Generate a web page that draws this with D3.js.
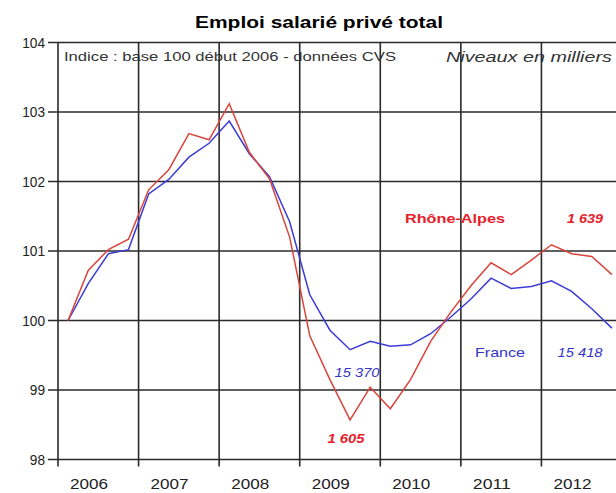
<!DOCTYPE html>
<html>
<head>
<meta charset="utf-8">
<script src="https://cdn.jsdelivr.net/npm/d3@7"></script>
<style>
  html, body { margin: 0; padding: 0; background: #fff; }
  svg { display: block; font-family: Arial, "Liberation Sans", sans-serif; }
</style>
</head>
<body>
<svg id="chart" width="616" height="493"></svg>
<script>
// Quarterly index, base 100 at the start of 2006 (seasonally adjusted)
const years = [2006, 2007, 2008, 2009, 2010, 2011, 2012];
const quartersPerYear = 4;
const yTicks = [98, 99, 100, 101, 102, 103, 104];

const rhoneAlpes = [100.0, 100.72, 101.02, 101.17, 101.88, 102.17, 102.69, 102.60,
                    103.12, 102.42, 102.04, 101.20, 99.78, 99.15, 98.57, 99.04,
                    98.73, 99.15, 99.70, 100.12, 100.50, 100.83, 100.66, 100.87,
                    101.09, 100.96, 100.92, 100.66];
const france = [100.0, 100.53, 100.96, 101.02, 101.82, 102.03, 102.35, 102.55,
                102.87, 102.40, 102.07, 101.42, 100.37, 99.86, 99.58, 99.70,
                99.63, 99.65, 99.81, 100.05, 100.31, 100.61, 100.46, 100.49,
                100.57, 100.42, 100.17, 99.89];

// Levels in thousands of jobs at the trough and at the last quarter
const rhoneLevels = { low: "1 605", last: "1 639" };
const franceLevels = { low: "15 370", last: "15 418" };

const svg = d3.select("#chart");

const x = d3.scaleLinear().domain([2006, 2013]).range([58, 622]);
const y = d3.scaleLinear().domain([98, 104]).range([459.5, 42.5]);

const qTime = i => years[0] + (i + 0.5) / quartersPerYear;

// The chart's lettering is wide: stretch each label to its set width
function fit(sel, width) {
  return sel.attr("textLength", width).attr("lengthAdjust", "spacingAndGlyphs");
}

// Title
fit(svg.append("text")
  .attr("x", 319).attr("y", 28)
  .attr("text-anchor", "middle")
  .attr("font-size", 17).attr("font-weight", "bold")
  .attr("fill", "#000")
  .text("Emploi salarié privé total"), 248);

// Subtitles inside the plot area
fit(svg.append("text")
  .attr("x", 64).attr("y", 61)
  .attr("font-size", 13).attr("fill", "#333")
  .text("Indice : base 100 début 2006 - données CVS"), 332);
fit(svg.append("text")
  .attr("x", 446).attr("y", 62)
  .attr("font-size", 15).attr("font-style", "italic").attr("fill", "#333")
  .text("Niveaux en milliers"), 166);

// Grid: horizontal lines at each index level
const grid = svg.append("g").attr("stroke", "#2a2a2a").attr("stroke-width", 1.6);
grid.selectAll("line.h").data(yTicks).join("line")
  .attr("class", "h")
  .attr("x1", 48).attr("x2", 616)
  .attr("y1", d => y(d)).attr("y2", d => y(d));

// Vertical lines at each year boundary, with ticks below the baseline
const yearBounds = years.concat([2013]);
grid.selectAll("line.v").data(yearBounds).join("line")
  .attr("class", "v")
  .attr("x1", d => x(d)).attr("x2", d => x(d))
  .attr("y1", y(104)).attr("y2", y(98) + 7);

// Y tick labels
svg.append("g").selectAll("text").data(yTicks).join("text")
  .attr("x", 45).attr("y", d => y(d) + 5)
  .attr("text-anchor", "end")
  .attr("font-size", 14).attr("fill", "#222")
  .attr("textLength", d => String(d).length * 7.6)
  .attr("lengthAdjust", "spacingAndGlyphs")
  .text(d => d);

// Year labels
svg.append("g").selectAll("text").data(years).join("text")
  .attr("x", d => x(d) + 31).attr("y", 489)
  .attr("text-anchor", "middle")
  .attr("font-size", 14).attr("fill", "#222")
  .attr("textLength", 38).attr("lengthAdjust", "spacingAndGlyphs")
  .text(d => d);

// Series lines
const line = d3.line().x((d, i) => x(qTime(i))).y(d => y(d));

svg.append("path").datum(france)
  .attr("fill", "none").attr("stroke", "#3b3bd6").attr("stroke-width", 1.5)
  .attr("d", line);
svg.append("path").datum(rhoneAlpes)
  .attr("fill", "none").attr("stroke", "#d9453c").attr("stroke-width", 1.5)
  .attr("d", line);

// Series names and level annotations
const red = "#e8202a", blue = "#3434c8";
fit(svg.append("text").attr("x", 455).attr("y", 223)
  .attr("text-anchor", "middle").attr("font-size", 13).attr("font-weight", "bold")
  .attr("fill", red).text("Rhône-Alpes"), 100);
fit(svg.append("text").attr("x", 585).attr("y", 223)
  .attr("text-anchor", "middle").attr("font-size", 12).attr("font-weight", "bold")
  .attr("font-style", "italic").attr("fill", red).text(rhoneLevels.last), 36);
fit(svg.append("text").attr("x", 500).attr("y", 357)
  .attr("text-anchor", "middle").attr("font-size", 13)
  .attr("fill", blue).text("France"), 50);
fit(svg.append("text").attr("x", 580).attr("y", 357)
  .attr("text-anchor", "middle").attr("font-size", 12)
  .attr("font-style", "italic").attr("fill", blue).text(franceLevels.last), 45);
fit(svg.append("text").attr("x", 357).attr("y", 377)
  .attr("text-anchor", "middle").attr("font-size", 12)
  .attr("font-style", "italic").attr("fill", blue).text(franceLevels.low), 45);
fit(svg.append("text").attr("x", 346).attr("y", 443)
  .attr("text-anchor", "middle").attr("font-size", 12).attr("font-weight", "bold")
  .attr("font-style", "italic").attr("fill", red).text(rhoneLevels.low), 37);
</script>
</body>
</html>
